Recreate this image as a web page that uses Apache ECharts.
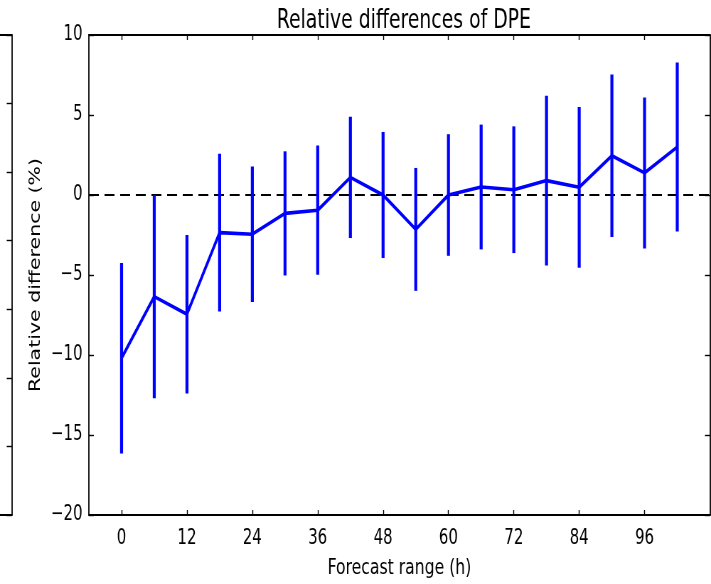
<!DOCTYPE html>
<html>
<head>
<meta charset="utf-8">
<script src="https://cdn.jsdelivr.net/npm/echarts@6/dist/echarts.min.js"></script>
<style>
html, body { margin: 0; padding: 0; overflow: hidden; background: #fff; width: 711px; height: 584px; }
#chart { width: 1000px; height: 584px; transform: scaleX(0.711); transform-origin: 0 0; }
</style>
</head>
<body>
<div id="chart"></div>
<script>
// ---- data ----
var hours = [0, 6, 12, 18, 24, 30, 36, 42, 48, 54, 60, 66, 72, 78, 84, 90, 96, 102];
var meanDiff = [-10.2, -6.35, -7.45, -2.35, -2.45, -1.15, -0.95, 1.1, 0.0, -2.15, 0.0, 0.5, 0.33, 0.9, 0.48, 2.45, 1.38, 3.0];
var errDiff = [5.95, 6.35, 4.95, 4.93, 4.23, 3.88, 4.04, 3.79, 3.94, 3.84, 3.8, 3.9, 3.96, 5.3, 5.02, 5.08, 4.72, 5.28];
var xTicks = [0, 12, 24, 36, 48, 60, 72, 84, 96];
var titleText = 'Relative differences of DPE';
var xName = 'Forecast range (h)';
var yName = 'Relative difference (%)';

var FONT = 'DejaVu Sans';
var lineData = hours.map(function (h, i) { return [h, meanDiff[i]]; });
var barData = hours.map(function (h, i) { return [h, meanDiff[i] - errDiff[i], meanDiff[i] + errDiff[i]]; });

var chart = echarts.init(document.getElementById('chart'), null, { renderer: 'canvas' });

var frameLine = { show: true, onZero: false, lineStyle: { color: '#000', width: 1.8 } };
var noLine = { show: false, onZero: false };
var tickLS = { color: '#000', width: 1.4 };

var option = {
  backgroundColor: '#fff',
  animation: false,
  title: {
    text: titleText,
    left: 563,
    textAlign: 'center',
    top: 3,
    textStyle: { fontFamily: FONT, fontSize: 26.5, fontWeight: 'normal', color: '#000' }
  },
  grid: [
    { left: 125, right: 1.5, top: 35, bottom: 69, show: false },
    { left: 0, right: 983.5, top: 35, bottom: 69, show: false }
  ],
  xAxis: [
    {
      gridIndex: 0, type: 'value', min: -6, max: 108, position: 'bottom',
      name: xName, nameLocation: 'middle', nameGap: 42,
      nameTextStyle: { fontFamily: FONT, fontSize: 22, color: '#000' },
      axisLine: frameLine,
      splitLine: { show: false },
      axisTick: { show: true, inside: true, length: 5, customValues: xTicks, lineStyle: tickLS },
      axisLabel: { show: true, customValues: xTicks, margin: 13, fontFamily: FONT, fontSize: 21, color: '#000' }
    },
    {
      gridIndex: 0, type: 'value', min: -6, max: 108, position: 'top',
      axisLine: frameLine,
      splitLine: { show: false },
      axisTick: { show: true, inside: true, length: 5, customValues: xTicks, lineStyle: tickLS },
      axisLabel: { show: false }
    },
    {
      gridIndex: 1, type: 'value', min: 0, max: 1, position: 'bottom',
      axisLine: frameLine, axisTick: { show: false }, axisLabel: { show: false }, splitLine: { show: false }
    },
    {
      gridIndex: 1, type: 'value', min: 0, max: 1, position: 'top',
      axisLine: frameLine, axisTick: { show: false }, axisLabel: { show: false }, splitLine: { show: false }
    }
  ],
  yAxis: [
    {
      gridIndex: 0, type: 'value', min: -20, max: 10, interval: 5, position: 'left',
      name: yName, nameLocation: 'middle', nameGap: 62,
      nameTextStyle: { fontFamily: FONT, fontSize: 20.5, color: '#000' },
      axisLine: frameLine,
      splitLine: { show: false },
      axisTick: { show: true, inside: true, length: 7, lineStyle: tickLS },
      axisLabel: {
        show: true, margin: 9, fontFamily: FONT, fontSize: 21, color: '#000',
        formatter: function (v) { return v < 0 ? '\u2212' + Math.abs(v) : String(v); }
      }
    },
    {
      gridIndex: 0, type: 'value', min: -20, max: 10, interval: 5, position: 'right',
      axisLine: frameLine,
      splitLine: { show: false },
      axisTick: { show: true, inside: true, length: 7, lineStyle: tickLS },
      axisLabel: { show: false }
    },
    {
      gridIndex: 1, type: 'value', min: 0, max: 7, interval: 1, position: 'right',
      axisLine: frameLine,
      splitLine: { show: false },
      axisTick: { show: true, inside: true, length: 7, lineStyle: tickLS },
      axisLabel: { show: false }
    }
  ],
  series: [
    {
      type: 'custom',
      xAxisIndex: 0, yAxisIndex: 0,
      data: barData,
      renderItem: function (params, api) {
        var lo = api.coord([api.value(0), api.value(1)]);
        var hi = api.coord([api.value(0), api.value(2)]);
        return {
          type: 'line',
          shape: { x1: lo[0], y1: lo[1], x2: hi[0], y2: hi[1] },
          style: { stroke: '#0000ff', lineWidth: 4.2 }
        };
      },
      z: 3
    },
    {
      type: 'line',
      xAxisIndex: 0, yAxisIndex: 0,
      data: lineData,
      symbol: 'none',
      lineStyle: { color: '#0000ff', width: 3.6 },
      z: 4,
      markLine: {
        silent: true,
        symbol: ['none', 'none'],
        label: { show: false },
        lineStyle: { color: '#000', type: [14, 8], width: 2 },
        data: [{ yAxis: 0 }],
        z: 2
      }
    }
  ]
};

chart.setOption(option);
</script>
</body>
</html>
